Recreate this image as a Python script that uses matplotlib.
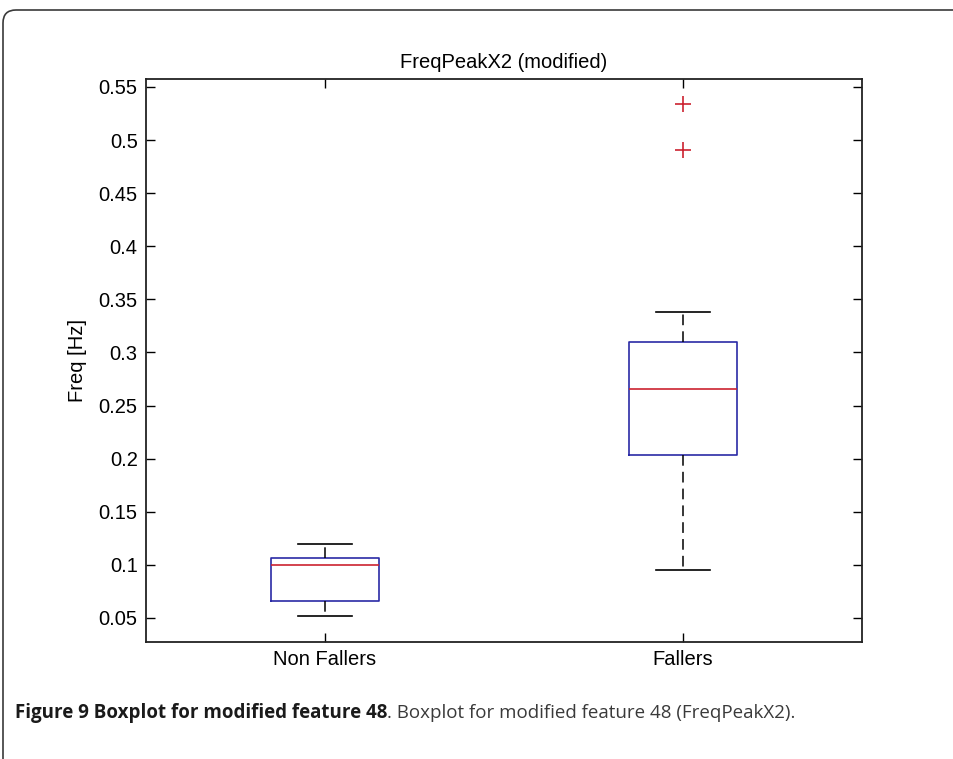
import matplotlib
matplotlib.use("Agg")
import matplotlib.pyplot as plt
from matplotlib.patches import FancyBboxPatch
from matplotlib.transforms import IdentityTransform

# Boxplot of FreqPeakX2 (modified), MATLAB style

groups = ["Non Fallers", "Fallers"]
q1 = [0.066, 0.2035]
medians = [0.0995, 0.2655]
q3 = [0.1065, 0.3095]
whisker_low = [0.052, 0.095]
whisker_high = [0.12, 0.338]
outliers = [[], [0.534, 0.4905]]
yticks = [0.05, 0.1, 0.15, 0.2, 0.25, 0.3, 0.35, 0.4, 0.45, 0.5, 0.55]
ytick_labels = ["0.05", "0.1", "0.15", "0.2", "0.25", "0.3", "0.35", "0.4", "0.45", "0.5", "0.55"]

title = "FreqPeakX2 (modified)"
ylabel = "Freq [Hz]"
caption_bold = "Figure 9 Boxplot for modified feature 48"
caption_rest = ". Boxplot for modified feature 48 (FreqPeakX2)."

plt.rcParams["font.family"] = ["Liberation Sans", "DejaVu Sans"]

fig = plt.figure(figsize=(9.54, 7.59), dpi=100)
ax = fig.add_axes([146 / 954, 117 / 759, 716 / 954, 563 / 759])

stats = []
for i in range(len(groups)):
    stats.append({
        "label": groups[i],
        "q1": q1[i],
        "med": medians[i],
        "q3": q3[i],
        "whislo": whisker_low[i],
        "whishi": whisker_high[i],
        "fliers": outliers[i],
    })

box_blue = "#2a2aa6"
med_red = "#cc2230"
ax.bxp(
    stats,
    positions=[1, 2],
    widths=0.3,
    showfliers=True,
    boxprops=dict(color=box_blue, linewidth=1.2),
    medianprops=dict(color=med_red, linewidth=1.2),
    whiskerprops=dict(color="black", linewidth=1.1, linestyle=(0, (7, 4))),
    capprops=dict(color="black", linewidth=1.2),
    capwidths=0.15,
    flierprops=dict(marker="+", markeredgecolor=med_red, markersize=11,
                    markeredgewidth=1.2, linestyle="none"),
)

ax.set_xlim(0.5, 2.5)
ax.set_ylim(0.0274, 0.5575)
ax.set_yticks(yticks)
ax.set_yticklabels(ytick_labels)
ax.set_xticks([1, 2])
ax.set_xticklabels(groups)

ax.tick_params(direction="in", top=True, right=True, length=6.5, width=1,
               labelsize=14.5, pad=6, colors="black")
for s in ax.spines.values():
    s.set_linewidth(1.3)
    s.set_color("#222222")

ax.set_title(title, fontsize=14.5, pad=8)
ax.set_ylabel(ylabel, fontsize=14.5, labelpad=8)

# frame around the figure panel (rounded top-left corner)
frame = FancyBboxPatch((3, -60), 1100, 809, boxstyle="round,pad=0,rounding_size=13",
                       transform=IdentityTransform(), fill=False,
                       edgecolor="#3a3a3a", linewidth=1.2)
fig.patches.append(frame)

# caption: bold lead then plain text
fig.canvas.draw()
renderer = fig.canvas.get_renderer()
t1 = fig.text(15 / 954, 1 - 713 / 759, caption_bold, fontsize=13.5, fontweight="bold",
              family=["Open Sans", "DejaVu Sans"], color="#1a1a1a", va="center")
bb = t1.get_window_extent(renderer=renderer)
fig.text(bb.x1 / 954, 1 - 713 / 759, caption_rest, fontsize=13.5,
         family=["Open Sans", "DejaVu Sans"], color="#3a3a3a", va="center")

fig.savefig("out.png", dpi=100)
